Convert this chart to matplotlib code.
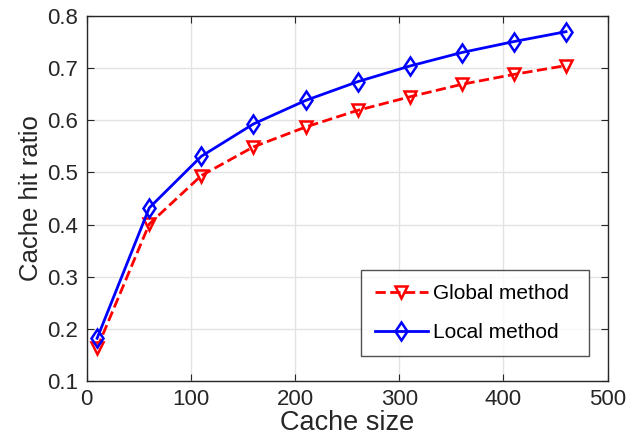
import numpy as np
import matplotlib
matplotlib.use("Agg")
import matplotlib.pyplot as plt

plt.rcParams['font.family'] = ['Liberation Sans', 'DejaVu Sans']

cache_size = [10, 60, 110, 160, 210, 260, 310, 360, 410, 460]
global_ratio = [0.163, 0.401, 0.494, 0.549, 0.587, 0.619, 0.645, 0.669, 0.688, 0.705]
local_ratio = [0.182, 0.432, 0.531, 0.593, 0.638, 0.674, 0.704, 0.730, 0.751, 0.770]

fig = plt.figure(figsize=(6.39, 4.41), dpi=100)
ax = fig.add_axes([0.1357, 0.136, 0.8153, 0.8277])

ax.plot(cache_size, global_ratio, 'r--v', lw=2, ms=9, mew=1.8,
        mfc='none', label='Global method')
ax.plot(cache_size, local_ratio, 'b-d', lw=2, ms=9.5, mew=1.8,
        mfc='none', label='Local method')

ax.set_xlim(0, 500)
ax.set_ylim(0.1, 0.8)
ax.set_xticks(np.arange(0, 501, 100))
ax.set_yticks(np.arange(0.1, 0.81, 0.1))
ax.set_yticklabels(['0.1', '0.2', '0.3', '0.4', '0.5', '0.6', '0.7', '0.8'])
ax.grid(True, color='#e3e3e3', lw=1)
ax.set_axisbelow(True)

dark = '#262626'
for s in ax.spines.values():
    s.set_color(dark)
    s.set_linewidth(1)
ax.tick_params(direction='in', top=True, right=True, colors=dark,
               labelsize=16, length=5)
ax.tick_params(axis='x', pad=6)
ax.tick_params(axis='y', pad=6.5)

ax.set_xlabel('Cache size', fontsize=19.5, color=dark, labelpad=0)
ax.set_ylabel('Cache hit ratio', fontsize=18.5, color=dark, labelpad=3)

leg = ax.legend(loc='upper left', bbox_to_anchor=(0.526, 0.067, 0.439, 0.237),
                mode='expand', fontsize=15, frameon=True, fancybox=False,
                edgecolor=dark, borderaxespad=0, handlelength=2.55,
                handletextpad=0.25, labelspacing=0.95, borderpad=0.68)
leg.get_frame().set_linewidth(1)

fig.savefig('out.png', dpi=100)
